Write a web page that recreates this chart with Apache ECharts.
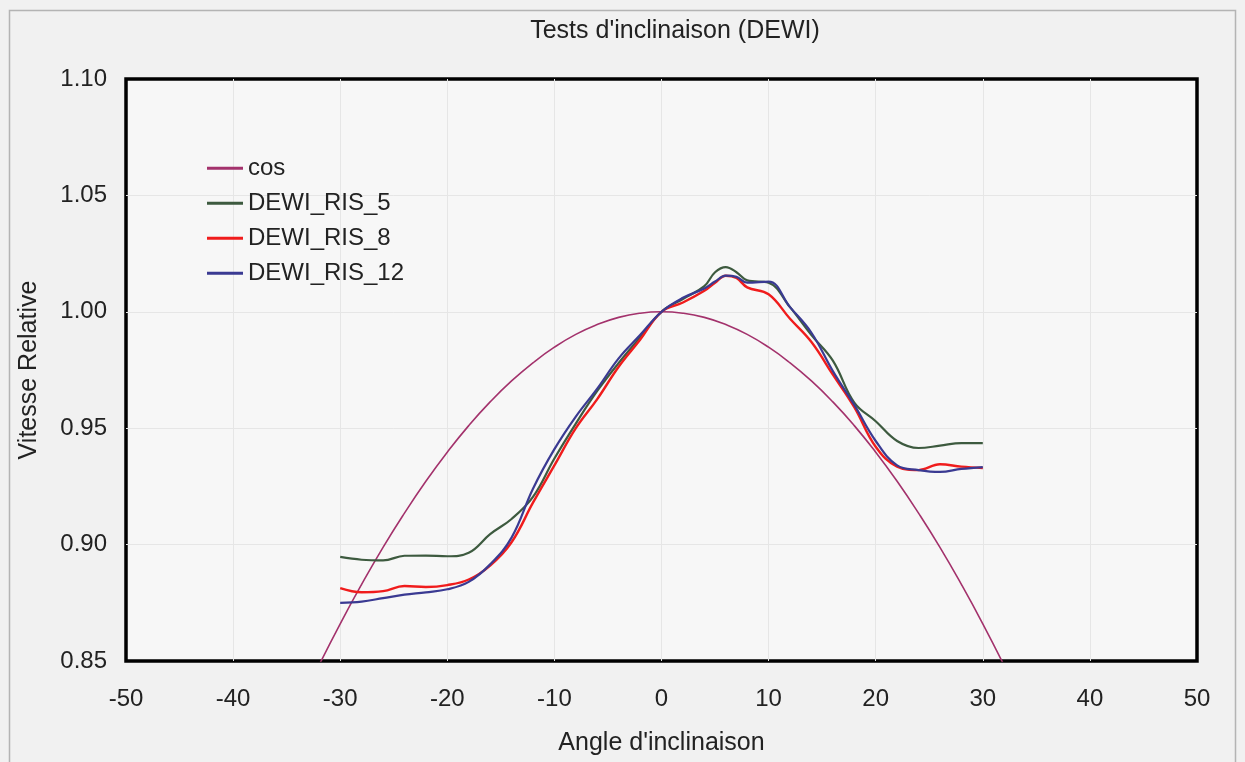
<!DOCTYPE html>
<html>
<head>
<meta charset="utf-8">
<script src="https://cdn.jsdelivr.net/npm/echarts@6/dist/echarts.min.js"></script>
<style>
html,body{margin:0;padding:0;background:#f1f1f1;}
#c{width:1245px;height:762px;}
</style>
</head>
<body>
<div id="c"></div>
<script>
const title = "Tests d'inclinaison (DEWI)";
const xName = "Angle d'inclinaison";
const yName = "Vitesse Relative";
const xTicks = [-50, -40, -30, -20, -10, 0, 10, 20, 30, 40, 50];
const yTicks = [0.85, 0.90, 0.95, 1.00, 1.05, 1.10];

const cosAngles = [-34,-32,-30,-28,-26,-24,-22,-20,-18,-16,-14,-12,-10,-8,-6,-4,-2,0,2,4,6,8,10,12,14,16,18,20,22,24,26,28,30,32,34];
const cosValues = [0.8290,0.8480,0.8660,0.8829,0.8988,0.9135,0.9272,0.9397,0.9511,0.9613,0.9703,0.9781,0.9848,0.9903,0.9945,0.9976,0.9994,1.0000,0.9994,0.9976,0.9945,0.9903,0.9848,0.9781,0.9703,0.9613,0.9511,0.9397,0.9272,0.9135,0.8988,0.8829,0.8660,0.8480,0.8290];

const angles = [-30,-28,-26,-24,-22,-20,-18,-16,-14,-12,-10,-8,-6,-4,-2,0,2,4,5,6,7,8,10,12,14,16,18,20,22,24,26,28,30];
const ris5  = [0.8947,0.8935,0.8932,0.8952,0.8953,0.8950,0.8965,0.9045,0.9110,0.9205,0.9370,0.9520,0.9660,0.9780,0.9890,1.0000,1.0055,1.0110,1.0170,1.0192,1.0170,1.0135,1.0125,1.0020,0.9900,0.9790,0.9610,0.9530,0.9445,0.9415,0.9425,0.9436,0.9436];
const ris8  = [0.8813,0.8795,0.8800,0.8822,0.8818,0.8826,0.8850,0.8910,0.9010,0.9180,0.9340,0.9500,0.9625,0.9764,0.9880,1.0000,1.0040,1.0090,1.0125,1.0155,1.0145,1.0105,1.0075,0.9970,0.9870,0.9730,0.9590,0.9420,0.9335,0.9320,0.9345,0.9335,0.9329];
const ris12 = [0.8750,0.8755,0.8770,0.8785,0.8795,0.8808,0.8840,0.8915,0.9030,0.9240,0.9410,0.9550,0.9670,0.9800,0.9900,1.0000,1.0060,1.0100,1.0130,1.0155,1.0150,1.0125,1.0130,1.0020,0.9910,0.9745,0.9600,0.9445,0.9340,0.9320,0.9312,0.9325,0.9333];

const names = ['cos','DEWI_RIS_5','DEWI_RIS_8','DEWI_RIS_12'];
const colors = ['#a3326c','#3d5a3f','#f01c1c','#3a3a92'];

function pairs(xs, ys){ return xs.map((x,i)=>[x, ys[i]]); }

const chart = echarts.init(document.getElementById('c'));
const font = 'Liberation Sans, Arial, sans-serif';
const fs = 24;
const split = {show: true, showMinLine: false, showMaxLine: false, lineStyle: {color: '#e6e6e6', width: 1}};
chart.setOption({
  backgroundColor: '#f1f1f1',
  animation: false,
  title: {
    text: title, left: 670, top: 14, textAlign: 'center',
    textStyle: {fontFamily: font, fontSize: 25, fontWeight: 'normal', color: '#222'}
  },
  graphic: [{
    type: 'rect', shape: {x: 9.5, y: 10.5, width: 1226, height: 760},
    style: {fill: 'none', stroke: '#b4b4b4', lineWidth: 1.5}, silent: true, z: -1
  }],
  grid: {
    left: 126, top: 79, right: 48, bottom: 101,
    show: true, backgroundColor: '#f7f7f7', borderColor: '#000', borderWidth: 3.5
  },
  legend: {
    orient: 'vertical', left: 207, top: 156, padding: 0,
    icon: 'rect', itemWidth: 36, itemHeight: 3, itemGap: 10.5,
    data: names,
    textStyle: {fontFamily: font, fontSize: fs, color: '#222', lineHeight: 24.5, padding: [0,0,0,0]}
  },
  xAxis: {
    type: 'value', min: -50, max: 50, interval: 10,
    name: xName, nameLocation: 'middle', nameGap: 70,
    nameTextStyle: {fontFamily: font, fontSize: 25, color: '#222'},
    axisLine: {show: false}, axisTick: {show: false},
    axisLabel: {fontFamily: font, fontSize: fs, color: '#222', margin: 26},
    splitLine: split
  },
  yAxis: {
    type: 'value', min: 0.85, max: 1.10, interval: 0.05,
    name: yName, nameLocation: 'middle', nameGap: 84, nameRotate: 90,
    nameTextStyle: {fontFamily: font, fontSize: 25, color: '#222'},
    axisLine: {show: false}, axisTick: {show: false},
    axisLabel: {fontFamily: font, fontSize: fs, color: '#222', margin: 19,
      formatter: v => v.toFixed(2)},
    splitLine: split
  },
  series: [
    {name: names[0], type: 'line', data: pairs(cosAngles, cosValues), smooth: true, showSymbol: false, symbol: 'none',
      lineStyle: {color: colors[0], width: 1.6}, itemStyle: {color: colors[0]}, clip: true, z: 1},
    {name: names[1], type: 'line', data: pairs(angles, ris5), smooth: 0.4, showSymbol: false, symbol: 'none',
      lineStyle: {color: colors[1], width: 2.2}, itemStyle: {color: colors[1]}, clip: true, z: 2},
    {name: names[2], type: 'line', data: pairs(angles, ris8), smooth: 0.4, showSymbol: false, symbol: 'none',
      lineStyle: {color: colors[2], width: 2.4}, itemStyle: {color: colors[2]}, clip: true, z: 3},
    {name: names[3], type: 'line', data: pairs(angles, ris12), smooth: 0.4, showSymbol: false, symbol: 'none',
      lineStyle: {color: colors[3], width: 2.2}, itemStyle: {color: colors[3]}, clip: true, z: 4}
  ]
});
</script>
</body>
</html>
